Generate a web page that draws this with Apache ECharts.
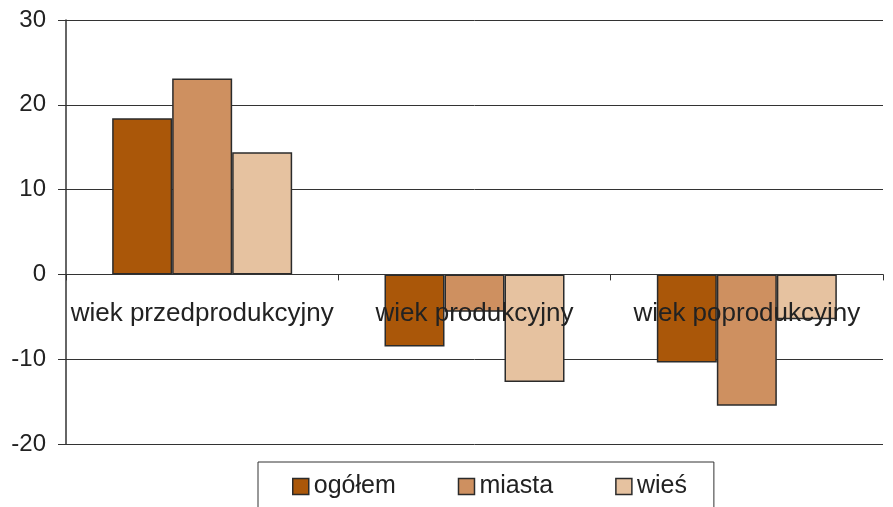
<!DOCTYPE html>
<html>
<head>
<meta charset="utf-8">
<script src="https://cdn.jsdelivr.net/npm/echarts@6/dist/echarts.min.js"></script>
<style>
  * { margin: 0; padding: 0; }
  body { background: #fff; }
</style>
</head>
<body>
<div id="chartId" style="width: 893px; height: 507px"></div>
<script>
// dane
const categories = ["wiek przedprodukcyjny", "wiek produkcyjny", "wiek poprodukcyjny"];
const seriesNames = ["ogółem", "miasta", "wieś"];
const ogolem = [18.4, -8.5, -10.4];
const miasta = [23.1, -4.4, -15.5];
const wies = [14.4, -12.7, -5.3];
const yTicks = [-20, -10, 0, 10, 20, 30];

const colors = ["#AA5709", "#CE9060", "#E6C2A0"];
const font = "Liberation Sans, Arial, sans-serif";

const chart = echarts.init(document.getElementById("chartId"));

function barSeries(name, data, color) {
  return {
    name: name,
    type: "bar",
    data: data,
    barWidth: 60,
    barGap: "0%",
    itemStyle: {
      color: color,
      borderColor: "#2b2b2b",
      borderWidth: 1.5,
    },
  };
}

// os X siedzi na zerze: przesuwamy ja w gore o odleglosc od -20 do 0
const gridTop = 20;
const gridBottom = 63;
const plotH = 507 - gridTop - gridBottom;
const zeroShift = plotH * (0 - yTicks[0]) / (yTicks[yTicks.length - 1] - yTicks[0]);

const option = {
  animation: false,
  color: colors,
  textStyle: { fontFamily: font },
  grid: {
    left: 66,
    right: 10,
    top: gridTop,
    bottom: gridBottom,
  },
  legend: {
    left: 258,
    top: 462,
    padding: [12, 27, 30, 34],
    itemGap: 62,
    itemWidth: 16,
    itemHeight: 16,
    borderColor: "#333",
    borderWidth: 1,
    icon: "rect",
    itemStyle: { borderColor: "#2b2b2b", borderWidth: 1.5 },
    textStyle: { fontSize: 25, color: "#222", fontFamily: font },
    data: seriesNames,
  },
  xAxis: {
    type: "category",
    data: categories,
    z: 10,
    offset: -zeroShift,
    axisLine: { onZero: false, lineStyle: { color: "#333", width: 1 } },
    axisTick: { show: true, length: 6, lineStyle: { color: "#333" } },
    axisLabel: {
      fontSize: 26,
      color: "#222",
      fontFamily: font,
      margin: 26,
      interval: 0,
    },
  },
  yAxis: {
    type: "value",
    min: yTicks[0],
    max: yTicks[yTicks.length - 1],
    interval: 10,
    axisLine: { show: true, lineStyle: { color: "#333", width: 1.5 } },
    axisTick: { show: true, length: 8, lineStyle: { color: "#333" } },
    axisLabel: {
      fontSize: 24,
      color: "#222",
      fontFamily: font,
      margin: 20,
    },
    splitLine: { show: true, lineStyle: { color: "#333", width: 1 } },
  },
  series: [
    barSeries(seriesNames[0], ogolem, colors[0]),
    barSeries(seriesNames[1], miasta, colors[1]),
    barSeries(seriesNames[2], wies, colors[2]),
  ],
};
chart.setOption(option);
</script>
</body>
</html>
